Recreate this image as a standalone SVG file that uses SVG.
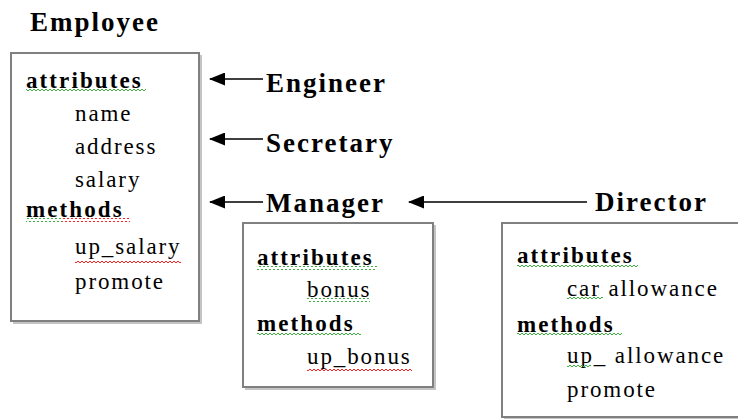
<svg xmlns="http://www.w3.org/2000/svg" width="738" height="419" viewBox="0 0 738 419">
<defs>
<style>
.box{fill:#fff;stroke:#808080;stroke-width:2}
.sh{fill:none;stroke:#c4c4c4;stroke-width:2}
.t{font-family:"Liberation Serif","Times New Roman",serif;fill:#000}
.title{font-size:27px;font-weight:bold;letter-spacing:2px}
.b{font-size:23px;font-weight:bold;letter-spacing:2.1px}
.r{font-size:23px;letter-spacing:1.9px}
.ln{stroke:#000;stroke-width:1.6;fill:none}
</style>
<marker id="ah" viewBox="0 0 16 13" refX="15" refY="6.5" markerWidth="16" markerHeight="13" markerUnits="userSpaceOnUse" orient="auto">
<path d="M16,6.5 L0,0 L0,13 Z" fill="#000"/>
</marker>
<pattern id="gw" width="4" height="4" patternUnits="userSpaceOnUse">
<path d="M0,3 L2,1 L4,3" fill="none" stroke="#3cb043" stroke-width="1"/>
</pattern>
<pattern id="rw" width="4" height="4" patternUnits="userSpaceOnUse">
<path d="M0,3 L2,1 L4,3" fill="none" stroke="#ff2020" stroke-width="1"/>
</pattern>
</defs>
<rect width="738" height="419" fill="#fff"/>

<g id="employee">
<text class="t title" x="30" y="31">Employee</text>
<path class="sh" d="M201,55 V323 H13"/>
<rect class="box" x="11" y="53" width="188" height="268"/>
<text class="t b" x="26" y="88">attributes</text>
<text class="t r" x="75" y="121">name</text>
<text class="t r" x="75" y="154">address</text>
<text class="t r" x="75" y="187">salary</text>
<text class="t b" x="26" y="217">methods</text>
<text class="t r" x="75" y="254">up_salary</text>
<text class="t r" x="75" y="289">promote</text>
<rect x="26" y="89" width="120" height="4" fill="url(#gw)"/>
<rect x="26" y="218" width="36" height="4" fill="url(#gw)"/>
<rect x="62" y="218" width="68" height="4" fill="url(#rw)"/>
<rect x="75" y="261" width="106" height="4" fill="url(#rw)"/>
</g>

<g id="engineer">
<text class="t title" x="266" y="92">Engineer</text>
</g>
<g id="secretary">
<text class="t title" x="266" y="152">Secretary</text>
</g>

<g id="manager">
<text class="t title" x="266" y="212">Manager</text>
<path class="sh" d="M435,225 V389 H245"/>
<rect class="box" x="243" y="223" width="190" height="164"/>
<text class="t b" x="257" y="265">attributes</text>
<text class="t r" x="307" y="297">bonus</text>
<text class="t b" x="257" y="331">methods</text>
<text class="t r" x="307" y="364">up_bonus</text>
<rect x="257" y="266" width="120" height="4" fill="url(#gw)"/>
<rect x="307" y="298" width="63" height="4" fill="url(#gw)"/>
<rect x="257" y="332" width="104" height="4" fill="url(#gw)"/>
<rect x="307" y="367" width="105" height="4" fill="url(#rw)"/>
</g>

<g id="director">
<text class="t title" x="595" y="211">Director</text>
<path class="sh" d="M504,419 H740"/>
<rect class="box" x="502" y="223" width="250" height="194"/>
<text class="t b" x="517" y="263">attributes</text>
<text class="t r" x="567" y="296">car allowance</text>
<text class="t b" x="517" y="332">methods</text>
<text class="t r" x="567" y="363">up_ allowance</text>
<text class="t r" x="567" y="397">promote</text>
<rect x="517" y="264" width="121" height="4" fill="url(#gw)"/>
<rect x="567" y="297" width="36" height="4" fill="url(#gw)"/>
<rect x="517" y="333" width="105" height="4" fill="url(#gw)"/>
<rect x="567" y="364" width="24" height="4" fill="url(#gw)"/>
</g>

<g id="connectors">
<line class="ln" x1="263" y1="79" x2="210" y2="79" marker-end="url(#ah)"/>
<line class="ln" x1="263" y1="139" x2="210" y2="139" marker-end="url(#ah)"/>
<line class="ln" x1="263" y1="202" x2="210" y2="202" marker-end="url(#ah)"/>
<line class="ln" x1="587" y1="202" x2="409" y2="202" marker-end="url(#ah)"/>
</g>
</svg>
